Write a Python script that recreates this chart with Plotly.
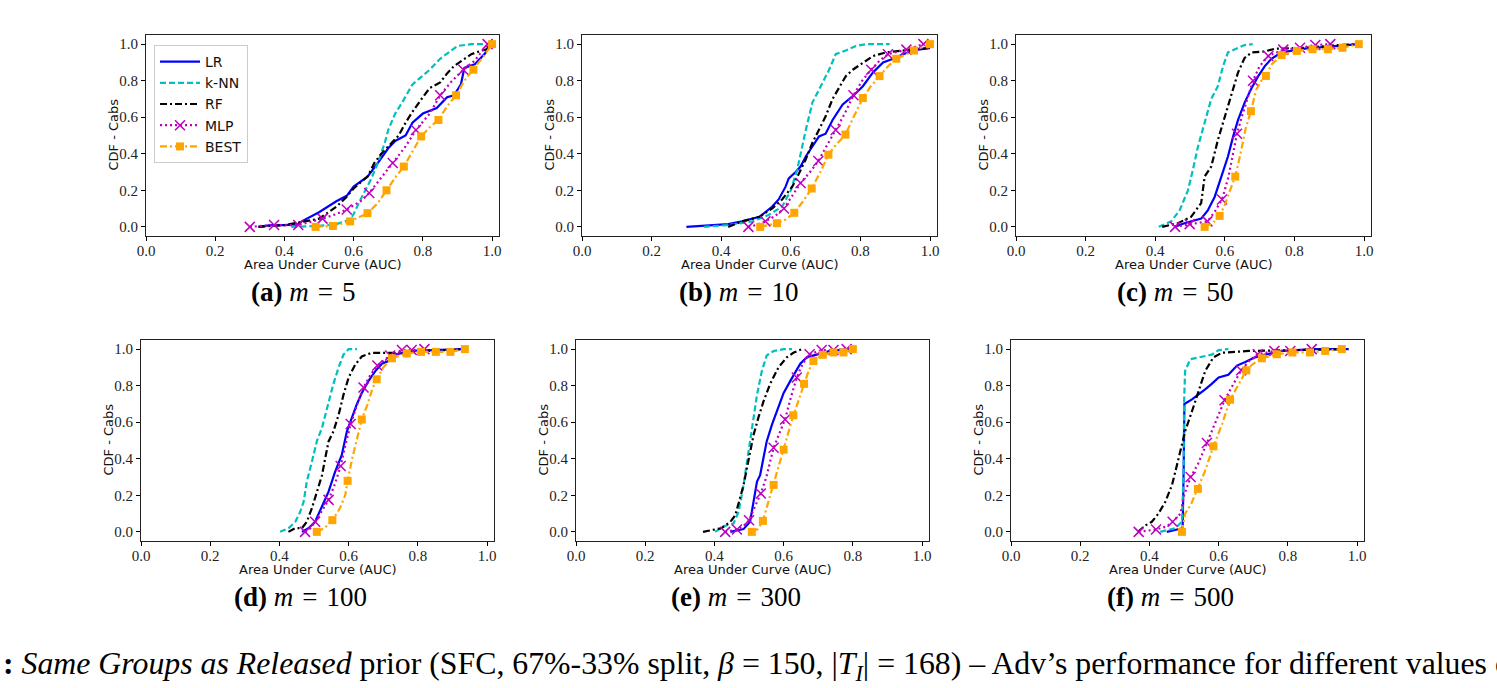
import plotly.graph_objects as go

W, H = 1497, 688

SERIES = ["LR", "k-NN", "RF", "MLP", "BEST"]
PANEL_LABELS = ["(a)", "(b)", "(c)", "(d)", "(e)", "(f)"]
PANEL_M = ["5", "10", "50", "100", "300", "500"]
TICKS = [0.0, 0.2, 0.4, 0.6, 0.8, 1.0]
TICK_TEXT = ["0.0", "0.2", "0.4", "0.6", "0.8", "1.0"]

# ---------------- (a) m = 5 ----------------
A_LR = [(0.325, 0.0), (0.36, 0.01), (0.40, 0.01), (0.44, 0.015), (0.45, 0.03), (0.50, 0.08), (0.55, 0.14),
        (0.58, 0.17), (0.60, 0.22), (0.64, 0.275), (0.67, 0.35), (0.70, 0.43), (0.72, 0.47), (0.75, 0.50),
        (0.77, 0.57), (0.80, 0.62), (0.84, 0.65), (0.87, 0.71), (0.89, 0.72), (0.91, 0.78), (0.92, 0.87),
        (0.95, 0.89), (0.98, 0.95), (0.99, 0.99)]
A_KNN = [(0.42, 0.0), (0.50, 0.005), (0.55, 0.015), (0.59, 0.04), (0.60, 0.07), (0.62, 0.15), (0.65, 0.26),
         (0.67, 0.35), (0.69, 0.46), (0.70, 0.53), (0.72, 0.62), (0.74, 0.68), (0.77, 0.78), (0.79, 0.81),
         (0.82, 0.86), (0.85, 0.92), (0.88, 0.96), (0.90, 0.99), (0.94, 1.0), (0.98, 1.0)]
A_RF = [(0.325, 0.0), (0.40, 0.01), (0.46, 0.03), (0.50, 0.045), (0.55, 0.11), (0.58, 0.165), (0.60, 0.21),
        (0.64, 0.275), (0.66, 0.35), (0.68, 0.40), (0.71, 0.46), (0.73, 0.50), (0.75, 0.57), (0.77, 0.63),
        (0.80, 0.71), (0.82, 0.76), (0.85, 0.79), (0.87, 0.84), (0.89, 0.88), (0.92, 0.92), (0.94, 0.945),
        (0.97, 0.965), (0.99, 0.975), (1.0, 1.0)]
A_MLP = [(0.30, 0.0), (0.37, 0.01), (0.44, 0.01), (0.47, 0.025), (0.51, 0.045), (0.55, 0.07), (0.58, 0.095),
         (0.62, 0.14), (0.645, 0.185), (0.68, 0.27), (0.713, 0.35), (0.75, 0.44), (0.78, 0.53), (0.82, 0.62),
         (0.85, 0.72), (0.88, 0.79), (0.917, 0.86), (0.95, 0.91), (0.987, 1.0)]
A_MLP_MK = [(0.30, 0.0), (0.37, 0.01), (0.44, 0.01), (0.51, 0.045), (0.58, 0.095), (0.645, 0.185),
            (0.713, 0.35), (0.78, 0.53), (0.85, 0.72), (0.917, 0.86), (0.987, 1.0)]
A_BEST = [(0.49, 0.0), (0.54, 0.005), (0.59, 0.03), (0.64, 0.075), (0.67, 0.13), (0.695, 0.20), (0.72, 0.27),
          (0.745, 0.33), (0.77, 0.41), (0.795, 0.495), (0.82, 0.545), (0.845, 0.585), (0.87, 0.66),
          (0.896, 0.72), (0.92, 0.80), (0.946, 0.86), (0.97, 0.92), (1.0, 1.0)]
A_BEST_MK = [(0.49, 0.0), (0.54, 0.005), (0.59, 0.03), (0.64, 0.075), (0.695, 0.20), (0.745, 0.33),
             (0.795, 0.495), (0.845, 0.585), (0.896, 0.72), (0.946, 0.86), (1.0, 1.0)]

# ---------------- (b) m = 10 ----------------
B_LR = [(0.30, 0.0), (0.38, 0.01), (0.42, 0.015), (0.46, 0.03), (0.51, 0.055), (0.546, 0.11), (0.565, 0.15),
        (0.585, 0.22), (0.594, 0.265), (0.614, 0.30), (0.628, 0.33), (0.643, 0.385), (0.662, 0.44),
        (0.681, 0.495), (0.70, 0.51), (0.72, 0.585), (0.749, 0.67), (0.778, 0.715), (0.807, 0.77),
        (0.836, 0.845), (0.865, 0.90), (0.894, 0.92), (0.923, 0.945), (0.952, 0.965), (1.0, 0.98)]
B_KNN = [(0.35, 0.0), (0.42, 0.01), (0.49, 0.03), (0.536, 0.065), (0.575, 0.11), (0.60, 0.20), (0.618, 0.31),
         (0.628, 0.40), (0.643, 0.53), (0.662, 0.68), (0.691, 0.79), (0.71, 0.86), (0.729, 0.945),
         (0.758, 0.965), (0.787, 0.99), (0.816, 1.0), (0.884, 1.0)]
B_RF = [(0.42, 0.0), (0.46, 0.03), (0.51, 0.055), (0.546, 0.10), (0.575, 0.15), (0.604, 0.22), (0.623, 0.29),
        (0.643, 0.37), (0.662, 0.46), (0.681, 0.53), (0.70, 0.605), (0.72, 0.70), (0.739, 0.76), (0.758, 0.825),
        (0.778, 0.86), (0.807, 0.90), (0.836, 0.935), (0.874, 0.955), (0.923, 0.965), (0.971, 0.975), (1.0, 0.98)]
B_MLP = [(0.478, 0.0), (0.50, 0.01), (0.527, 0.03), (0.555, 0.06), (0.58, 0.10), (0.605, 0.17), (0.628, 0.24),
         (0.655, 0.30), (0.679, 0.36), (0.705, 0.45), (0.729, 0.53), (0.755, 0.62), (0.78, 0.72), (0.805, 0.80),
         (0.831, 0.86), (0.855, 0.91), (0.879, 0.945), (0.932, 0.97), (0.981, 1.0)]
B_MLP_MK = [(0.478, 0.0), (0.527, 0.03), (0.58, 0.10), (0.628, 0.24), (0.679, 0.36), (0.729, 0.53), (0.78, 0.72),
            (0.831, 0.86), (0.879, 0.945), (0.932, 0.97), (0.981, 1.0)]
B_BEST = [(0.512, 0.0), (0.56, 0.02), (0.585, 0.04), (0.61, 0.077), (0.635, 0.14), (0.66, 0.21), (0.685, 0.30),
          (0.708, 0.395), (0.73, 0.45), (0.757, 0.505), (0.78, 0.60), (0.807, 0.705), (0.83, 0.77),
          (0.855, 0.825), (0.88, 0.88), (0.903, 0.92), (0.954, 0.965), (1.0, 1.0)]
B_BEST_MK = [(0.512, 0.0), (0.56, 0.02), (0.61, 0.077), (0.66, 0.21), (0.708, 0.395), (0.757, 0.505),
             (0.807, 0.705), (0.855, 0.825), (0.903, 0.92), (0.954, 0.965), (1.0, 1.0)]

# ---------------- (c) m = 50 ----------------
C_LR = [(0.455, 0.0), (0.484, 0.02), (0.532, 0.045), (0.551, 0.09), (0.571, 0.165), (0.59, 0.275), (0.609, 0.385),
        (0.624, 0.495), (0.638, 0.585), (0.657, 0.68), (0.677, 0.76), (0.696, 0.825), (0.715, 0.88),
        (0.734, 0.92), (0.763, 0.955), (0.83, 0.975), (0.927, 0.99), (0.985, 1.0)]
C_KNN = [(0.41, 0.0), (0.446, 0.03), (0.47, 0.09), (0.494, 0.20), (0.508, 0.31), (0.523, 0.44), (0.542, 0.57),
         (0.561, 0.70), (0.58, 0.77), (0.595, 0.88), (0.609, 0.955), (0.638, 0.98), (0.657, 0.995), (0.68, 1.0)]
C_RF = [(0.42, 0.0), (0.465, 0.02), (0.503, 0.055), (0.532, 0.13), (0.542, 0.275), (0.561, 0.33), (0.58, 0.475),
        (0.60, 0.605), (0.619, 0.715), (0.628, 0.78), (0.638, 0.845), (0.657, 0.925), (0.677, 0.955),
        (0.715, 0.96), (0.744, 0.975), (0.83, 0.98), (0.927, 0.995), (0.994, 1.0)]
C_MLP = [(0.457, 0.0), (0.499, 0.015), (0.55, 0.03), (0.57, 0.08), (0.592, 0.15), (0.61, 0.27), (0.62, 0.37),
         (0.635, 0.51), (0.65, 0.61), (0.665, 0.70), (0.681, 0.80), (0.70, 0.88), (0.725, 0.935), (0.768, 0.97),
         (0.816, 0.98), (0.86, 0.995), (0.903, 1.0)]
C_MLP_MK = [(0.457, 0.0), (0.499, 0.015), (0.55, 0.03), (0.592, 0.15), (0.635, 0.51), (0.681, 0.80),
            (0.725, 0.935), (0.768, 0.97), (0.816, 0.98), (0.86, 0.995), (0.903, 1.0)]
C_BEST = [(0.542, 0.0), (0.565, 0.02), (0.585, 0.06), (0.60, 0.12), (0.615, 0.20), (0.63, 0.275), (0.645, 0.40),
          (0.66, 0.54), (0.675, 0.633), (0.69, 0.75), (0.705, 0.80), (0.718, 0.826), (0.735, 0.89),
          (0.763, 0.94), (0.807, 0.963), (0.852, 0.972), (0.896, 0.972), (0.938, 0.98), (0.985, 1.0)]
C_BEST_MK = [(0.542, 0.0), (0.585, 0.06), (0.63, 0.275), (0.675, 0.633), (0.718, 0.826), (0.763, 0.94),
             (0.807, 0.963), (0.852, 0.972), (0.896, 0.972), (0.938, 0.98), (0.985, 1.0)]

# ---------------- (d) m = 100 ----------------
D_LR = [(0.465, 0.0), (0.484, 0.02), (0.503, 0.055), (0.523, 0.145), (0.542, 0.22), (0.561, 0.33), (0.58, 0.42),
        (0.595, 0.55), (0.609, 0.625), (0.624, 0.70), (0.638, 0.76), (0.657, 0.825), (0.677, 0.88),
        (0.696, 0.92), (0.715, 0.935), (0.734, 0.97), (0.782, 0.99), (0.927, 1.0)]
D_KNN = [(0.402, 0.0), (0.426, 0.02), (0.446, 0.055), (0.46, 0.11), (0.47, 0.165), (0.479, 0.275), (0.494, 0.385),
         (0.508, 0.495), (0.523, 0.57), (0.532, 0.64), (0.542, 0.715), (0.556, 0.81), (0.571, 0.90),
         (0.585, 0.97), (0.60, 1.0), (0.624, 1.0)]
D_RF = [(0.426, 0.0), (0.446, 0.02), (0.465, 0.02), (0.479, 0.055), (0.494, 0.13), (0.508, 0.22), (0.523, 0.31),
        (0.532, 0.40), (0.542, 0.495), (0.556, 0.55), (0.571, 0.64), (0.585, 0.75), (0.60, 0.845), (0.619, 0.915),
        (0.638, 0.96), (0.667, 0.98), (0.734, 0.98), (0.83, 0.99), (0.927, 1.0)]
D_MLP = [(0.474, 0.0), (0.49, 0.02), (0.503, 0.055), (0.522, 0.11), (0.542, 0.175), (0.56, 0.26), (0.577, 0.36),
         (0.59, 0.47), (0.606, 0.59), (0.625, 0.70), (0.643, 0.79), (0.663, 0.86), (0.683, 0.91), (0.72, 0.965),
         (0.754, 0.995), (0.782, 0.995), (0.819, 1.0)]
D_MLP_MK = [(0.474, 0.0), (0.503, 0.055), (0.542, 0.175), (0.577, 0.36), (0.606, 0.59), (0.643, 0.79),
            (0.683, 0.91), (0.72, 0.965), (0.754, 0.995), (0.782, 0.995), (0.819, 1.0)]
D_BEST = [(0.508, 0.0), (0.53, 0.02), (0.553, 0.064), (0.575, 0.13), (0.59, 0.20), (0.597, 0.279), (0.61, 0.40),
          (0.625, 0.52), (0.638, 0.615), (0.655, 0.70), (0.668, 0.78), (0.681, 0.835), (0.70, 0.90),
          (0.725, 0.95), (0.768, 0.976), (0.809, 0.985), (0.852, 0.985), (0.894, 0.985), (0.936, 1.0)]
D_BEST_MK = [(0.508, 0.0), (0.553, 0.064), (0.597, 0.279), (0.638, 0.615), (0.681, 0.835), (0.725, 0.95),
             (0.768, 0.976), (0.809, 0.985), (0.852, 0.985), (0.894, 0.985), (0.936, 1.0)]

# ---------------- (e) m = 300 ----------------
E_LR = [(0.446, 0.0), (0.484, 0.015), (0.503, 0.055), (0.513, 0.165), (0.523, 0.275), (0.532, 0.31),
        (0.542, 0.40), (0.551, 0.495), (0.566, 0.585), (0.58, 0.66), (0.60, 0.76), (0.619, 0.825),
        (0.633, 0.87), (0.648, 0.92), (0.667, 0.955), (0.696, 0.97), (0.734, 0.99), (0.792, 1.0)]
E_KNN = [(0.402, 0.0), (0.426, 0.03), (0.455, 0.045), (0.47, 0.11), (0.484, 0.255), (0.494, 0.385),
         (0.503, 0.495), (0.513, 0.625), (0.523, 0.75), (0.537, 0.88), (0.551, 0.965), (0.571, 0.99),
         (0.60, 1.0), (0.624, 1.0)]
E_RF = [(0.367, 0.0), (0.397, 0.01), (0.42, 0.02), (0.446, 0.055), (0.46, 0.09), (0.474, 0.185), (0.484, 0.255),
        (0.494, 0.35), (0.503, 0.44), (0.513, 0.53), (0.527, 0.625), (0.542, 0.715), (0.561, 0.81),
        (0.585, 0.90), (0.609, 0.955), (0.628, 0.98), (0.653, 1.0)]
E_MLP = [(0.431, 0.0), (0.465, 0.013), (0.49, 0.04), (0.50, 0.064), (0.515, 0.13), (0.534, 0.21), (0.55, 0.30),
         (0.56, 0.38), (0.571, 0.46), (0.59, 0.55), (0.604, 0.615), (0.62, 0.73), (0.638, 0.845), (0.655, 0.92),
         (0.675, 0.972), (0.71, 0.995), (0.744, 0.995), (0.782, 1.0)]
E_MLP_MK = [(0.431, 0.0), (0.465, 0.013), (0.50, 0.064), (0.534, 0.21), (0.571, 0.46), (0.604, 0.615),
            (0.638, 0.845), (0.675, 0.972), (0.71, 0.995), (0.744, 0.995), (0.782, 1.0)]
E_BEST = [(0.508, 0.0), (0.525, 0.015), (0.54, 0.06), (0.555, 0.16), (0.571, 0.257), (0.585, 0.36), (0.60, 0.45),
          (0.615, 0.55), (0.628, 0.638), (0.645, 0.73), (0.659, 0.81), (0.672, 0.88), (0.686, 0.935),
          (0.713, 0.969), (0.744, 0.982), (0.773, 0.982), (0.80, 1.0)]
E_BEST_MK = [(0.508, 0.0), (0.54, 0.06), (0.571, 0.257), (0.60, 0.45), (0.628, 0.638), (0.659, 0.81),
             (0.686, 0.935), (0.713, 0.969), (0.744, 0.982), (0.773, 0.982), (0.80, 1.0)]

# ---------------- (f) m = 500 ----------------
F_LR = [(0.45, 0.0), (0.484, 0.015), (0.496, 0.02), (0.499, 0.35), (0.501, 0.70), (0.523, 0.725), (0.542, 0.75),
        (0.561, 0.78), (0.58, 0.81), (0.60, 0.845), (0.628, 0.86), (0.653, 0.91), (0.677, 0.93), (0.705, 0.955),
        (0.734, 0.97), (0.782, 0.99), (0.879, 1.0), (0.975, 1.0)]
F_KNN = [(0.431, 0.0), (0.474, 0.02), (0.494, 0.055), (0.499, 0.35), (0.50, 0.70), (0.503, 0.88), (0.518, 0.945),
         (0.542, 0.955), (0.58, 0.97), (0.60, 0.995), (0.628, 1.0)]
F_RF = [(0.367, 0.0), (0.388, 0.035), (0.407, 0.055), (0.426, 0.10), (0.446, 0.165), (0.465, 0.255),
        (0.484, 0.40), (0.503, 0.55), (0.523, 0.66), (0.542, 0.77), (0.561, 0.88), (0.585, 0.955), (0.609, 0.98),
        (0.686, 0.99), (0.83, 0.995), (0.975, 1.0)]
F_MLP = [(0.369, 0.0), (0.419, 0.013), (0.45, 0.03), (0.467, 0.055), (0.49, 0.10), (0.50, 0.20), (0.519, 0.30),
         (0.54, 0.37), (0.566, 0.486), (0.59, 0.60), (0.617, 0.72), (0.64, 0.80), (0.665, 0.884), (0.69, 0.94),
         (0.713, 0.972), (0.761, 0.99), (0.807, 0.99), (0.869, 1.0)]
F_MLP_MK = [(0.369, 0.0), (0.419, 0.013), (0.467, 0.055), (0.519, 0.30), (0.566, 0.486), (0.617, 0.72),
            (0.665, 0.884), (0.713, 0.972), (0.761, 0.99), (0.807, 0.99), (0.869, 1.0)]
F_BEST = [(0.494, 0.0), (0.499, 0.05), (0.503, 0.10), (0.52, 0.15), (0.54, 0.235), (0.56, 0.33), (0.585, 0.468),
          (0.61, 0.59), (0.633, 0.723), (0.655, 0.80), (0.68, 0.884), (0.70, 0.92), (0.725, 0.95),
          (0.768, 0.972), (0.813, 0.982), (0.864, 0.982), (0.908, 0.99), (0.956, 1.0)]
F_BEST_MK = [(0.494, 0.0), (0.54, 0.235), (0.585, 0.468), (0.633, 0.723), (0.68, 0.884), (0.725, 0.95),
             (0.768, 0.972), (0.813, 0.982), (0.864, 0.982), (0.908, 0.99), (0.956, 1.0)]

PANELS = [
    (A_LR, A_KNN, A_RF, A_MLP, A_MLP_MK, A_BEST, A_BEST_MK),
    (B_LR, B_KNN, B_RF, B_MLP, B_MLP_MK, B_BEST, B_BEST_MK),
    (C_LR, C_KNN, C_RF, C_MLP, C_MLP_MK, C_BEST, C_BEST_MK),
    (D_LR, D_KNN, D_RF, D_MLP, D_MLP_MK, D_BEST, D_BEST_MK),
    (E_LR, E_KNN, E_RF, E_MLP, E_MLP_MK, E_BEST, E_BEST_MK),
    (F_LR, F_KNN, F_RF, F_MLP, F_MLP_MK, F_BEST, F_BEST_MK),
]

# ---------------- styling ----------------
COL = {"LR": "#0000ff", "k-NN": "#00bfbf", "RF": "#000000", "MLP": "#bf00bf", "BEST": "#ffa500"}
DASH = {"LR": "solid", "k-NN": "6px,3px", "RF": "7px,3px,2px,3px", "MLP": "2px,3px", "BEST": "7px,3px,2px,3px"}
SANS = "DejaVu Sans"
SERIF = "Liberation Serif"

# pixel boxes of each panel frame: left, right, top, bottom
BOXES = [(146, 499, 35, 236), (582, 937, 35, 236), (1016, 1371, 35, 236),
         (141, 494, 340, 541), (576, 929, 340, 541), (1011, 1364, 340, 541)]
CAP_X = [303, 739, 1175, 300, 736, 1170]


def px(x):
    return x / W


def py(y):
    return 1 - y / H


def xs(pts):
    return [p[0] for p in pts]


def ys(pts):
    return [p[1] for p in pts]


fig = go.Figure()
annotations = []
layout = {}

for i, (lr, knn, rf, mlp, mlp_mk, best, best_mk) in enumerate(PANELS):
    k = "" if i == 0 else str(i + 1)
    xa, ya = "x" + k, "y" + k
    l, r, t, b = BOXES[i]
    common = dict(
        tickvals=TICKS, ticktext=TICK_TEXT, ticks="outside", ticklen=4, tickcolor="#000", tickwidth=1,
        showline=True, linecolor="#222", linewidth=1.2, mirror=True, showgrid=False, zeroline=False,
        automargin=False, tickfont=dict(family=SERIF, size=15, color="#222"),
    )
    layout["xaxis" + k] = dict(domain=[px(l), px(r)], anchor=ya, range=[0, 1.02], ticklabelstandoff=-3, **common)
    layout["yaxis" + k] = dict(domain=[py(b), py(t)], anchor=xa, range=[-0.05, 1.05], **common)
    for name, pts in (("LR", lr), ("k-NN", knn), ("RF", rf), ("MLP", mlp), ("BEST", best)):
        fig.add_trace(go.Scatter(
            x=xs(pts), y=ys(pts), mode="lines", xaxis=xa, yaxis=ya, showlegend=False,
            line=dict(color=COL[name], width=2.2, dash=DASH[name]), hoverinfo="skip",
        ))
        if name == "MLP":
            fig.add_trace(go.Scatter(
                x=xs(mlp_mk), y=ys(mlp_mk), mode="markers", xaxis=xa, yaxis=ya, showlegend=False,
                marker=dict(symbol="x-thin", size=10, line=dict(color=COL["MLP"], width=1.5)),
            ))
        if name == "BEST":
            fig.add_trace(go.Scatter(
                x=xs(best_mk), y=ys(best_mk), mode="markers", xaxis=xa, yaxis=ya, showlegend=False,
                marker=dict(symbol="square", size=8, color=COL["BEST"]),
            ))
    # axis titles
    annotations.append(dict(
        text="Area Under Curve (AUC)", x=px((l + r) / 2), y=py(b + 28), xref="paper", yref="paper",
        showarrow=False, font=dict(family=SANS, size=13, color="#111"), xanchor="center", yanchor="middle",
    ))
    annotations.append(dict(
        text="CDF - Cabs", x=px(l - 33), y=py((t + b) / 2 - 1), xref="paper", yref="paper", textangle=-90,
        showarrow=False, font=dict(family=SANS, size=13, color="#111"), xanchor="center", yanchor="middle",
    ))
    annotations.append(dict(
        text="<b>" + PANEL_LABELS[i] + "</b> <i>m</i>\u2004=\u2004" + PANEL_M[i],
        x=px(CAP_X[i]), y=py(b + 56), xref="paper", yref="paper", showarrow=False,
        font=dict(family=SERIF, size=27, color="#000"), xanchor="center", yanchor="middle",
    ))

# legend entries (panel a)
for name in SERIES:
    mode = "lines+markers" if name in ("MLP", "BEST") else "lines"
    marker = dict(symbol="x-thin", size=10, line=dict(color=COL[name], width=1.5)) if name == "MLP" else \
        dict(symbol="square", size=8, color=COL[name])
    fig.add_trace(go.Scatter(
        x=[None], y=[None], mode=mode, name=name, xaxis="x", yaxis="y",
        line=dict(color=COL[name], width=2.2, dash=DASH[name]), marker=marker,
    ))

annotations.append(dict(
    text="<b>:</b> <i>Same Groups as Released</i> prior (SFC, 67%-33% split, <i>β</i> = 150, "
         "|<i>T<sub>I</sub></i>| = 168) – Adv’s performance for different values of <i>m</i>.",
    x=px(1), y=py(666), xref="paper", yref="paper", showarrow=False, xanchor="left", yanchor="middle",
    font=dict(family=SERIF, size=31.8, color="#000"),
))

fig.update_layout(
    width=W, height=H, margin=dict(l=0, r=0, t=0, b=0), plot_bgcolor="white", paper_bgcolor="white",
    showlegend=True, annotations=annotations,
    legend=dict(x=px(154), y=py(45), xanchor="left", yanchor="top", bgcolor="white",
                bordercolor="#cccccc", borderwidth=1, font=dict(family=SANS, size=14, color="#111"),
                itemwidth=40, tracegroupgap=0),
    **layout,
)

fig.write_html(
    "out.html",
    config={"displayModeBar": False},
    post_script="document.body.style.margin='0';document.body.style.overflow='hidden';",
)
